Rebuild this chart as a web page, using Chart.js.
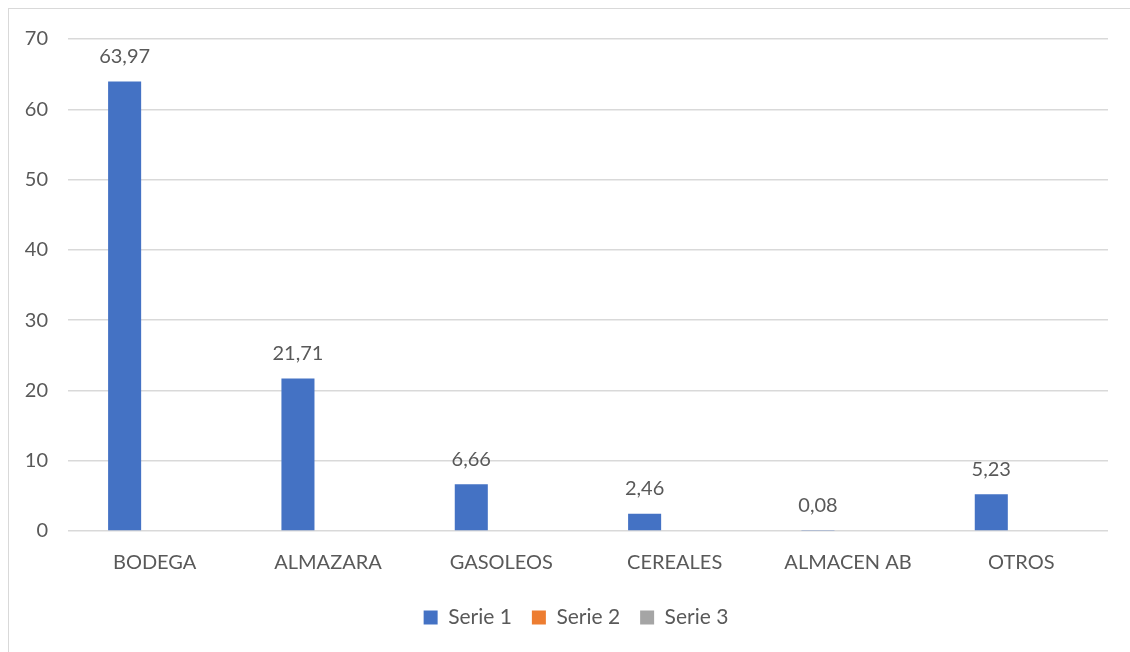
<!doctype html>
<html>
	<head>
		<title>Serie 1 por actividad</title>
		<script src="https://cdn.jsdelivr.net/npm/chart.js@4/dist/chart.umd.min.js"></script>
		<style>
			html, body {
				margin: 0;
				padding: 0;
				background: #fff;
				overflow: hidden;
			}
			#frame {
				position: absolute;
				left: 8px;
				top: 8px;
				width: 1140px;
				height: 700px;
				border: 1px solid #d9d9d9;
			}
			#wrap {
				position: absolute;
				left: 0;
				top: 0;
				width: 1130px;
				height: 652px;
			}
		</style>
	</head>
	<body>
		<div id="frame"></div>
		<div id="wrap"><canvas id="chart"></canvas></div>

		<script>
			var categories = ['BODEGA', 'ALMAZARA', 'GASOLEOS', 'CEREALES', 'ALMACEN AB', 'OTROS'];
			var serie1 = [63.97, 21.71, 6.66, 2.46, 0.08, 5.23];
			var serie2 = [null, null, null, null, null, null];
			var serie3 = [null, null, null, null, null, null];
			var yTicks = [0, 10, 20, 30, 40, 50, 60, 70];

			var FONT = 'Lato, "Liberation Sans", sans-serif';
			var TEXT = '#595959';

			// value labels above Serie 1 bars, comma decimals
			var valueLabels = {
				id: 'valueLabels',
				afterDatasetsDraw: function(chart) {
					var ctx = chart.ctx;
					var meta = chart.getDatasetMeta(0);
					ctx.save();
					ctx.font = '20px ' + FONT;
					ctx.fillStyle = TEXT;
					ctx.textAlign = 'center';
					ctx.textBaseline = 'middle';
					meta.data.forEach(function(bar, i) {
						var v = serie1[i];
						if (v == null) return;
						ctx.fillText(v.toFixed(2).replace('.', ','), bar.x, bar.y - 25);
					});
					ctx.restore();
				}
			};

			// legend sits a bit right of the canvas centre in the original
			var legendShift = {
				id: 'legendShift',
				afterLayout: function(chart) {
					chart.legend.left += 22;
					chart.legend.right += 22;
				}
			};

			new Chart(document.getElementById('chart').getContext('2d'), {
				type: 'bar',
				data: {
					labels: categories,
					datasets: [
						{ label: 'Serie 1', data: serie1, backgroundColor: '#4472c4', borderWidth: 0 },
						{ label: 'Serie 2', data: serie2, backgroundColor: '#ed7d31', borderWidth: 0 },
						{ label: 'Serie 3', data: serie3, backgroundColor: '#a5a5a5', borderWidth: 0 }
					]
				},
				options: {
					responsive: true,
					maintainAspectRatio: false,
					animation: false,
					datasets: {
						bar: { categoryPercentage: 0.52, barPercentage: 1.1 }
					},
					layout: { padding: { top: 39, right: 22, bottom: 14, left: 0 } },
					plugins: {
						tooltip: { enabled: false },
						legend: {
							position: 'bottom',
							labels: {
								font: { family: FONT, size: 21 },
								color: TEXT,
								boxWidth: 14,
								boxHeight: 14,
								padding: 20
							}
						}
					},
					scales: {
						x: {
							afterFit: function(scale) { scale.height -= 8; },
							grid: { display: false, drawTicks: false },
							border: { display: false },
							ticks: {
								font: { family: FONT, size: 20 },
								color: TEXT,
								padding: 20
							}
						},
						y: {
							min: 0,
							max: 70,
							afterBuildTicks: function(scale) {
								scale.ticks = yTicks.map(function(v) { return { value: v }; });
							},
							afterFit: function(scale) { scale.width = 68; },
							grid: { color: '#d9d9d9', lineWidth: 1.5, drawTicks: false },
							border: { display: false },
							ticks: {
								font: { family: FONT, size: 20 },
								color: TEXT,
								padding: 20
							}
						}
					}
				},
				plugins: [valueLabels, legendShift]
			});
		</script>
	</body>
</html>
